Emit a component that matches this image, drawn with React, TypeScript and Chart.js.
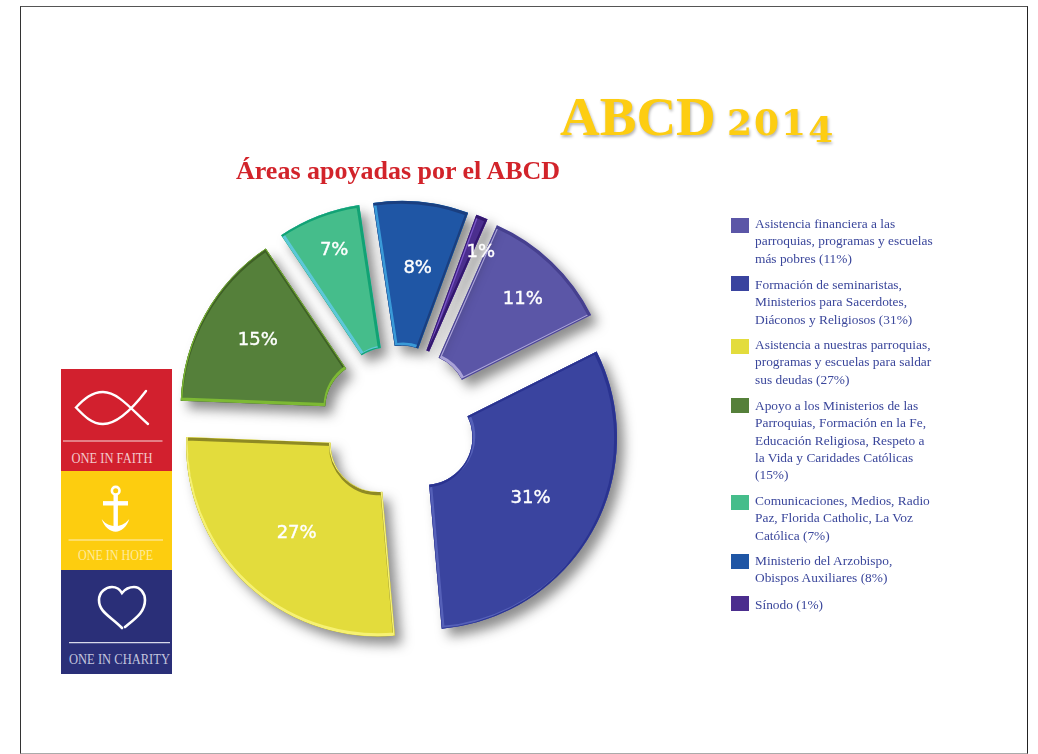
import React, { useEffect, useRef } from "react";
import { Chart, registerables } from "chart.js";

Chart.register(...registerables);

const shares = [11, 31, 27, 15, 7, 8, 1];
const labels = [
  "Asistencia financiera a las parroquias, programas y escuelas más pobres",
  "Formación de seminaristas, Ministerios para Sacerdotes, Diáconos y Religiosos",
  "Asistencia a nuestras parroquias, programas y escuelas para saldar sus deudas",
  "Apoyo a los Ministerios de las Parroquias, Formación en la Fe, Educación Religiosa, Respeto a la Vida y Caridades Católicas",
  "Comunicaciones, Medios, Radio Paz, Florida Catholic, La Voz Católica",
  "Ministerio del Arzobispo, Obispos Auxiliares",
  "Sínodo",
];
const legendLines = [
  ["Asistencia financiera a las", "parroquias, programas y escuelas", "más pobres (11%)"],
  ["Formación de seminaristas,", "Ministerios para Sacerdotes,", "Diáconos y Religiosos (31%)"],
  ["Asistencia a nuestras parroquias,", "programas y escuelas para saldar", "sus deudas (27%)"],
  ["Apoyo a los Ministerios de las", "Parroquias, Formación en la Fe,", "Educación Religiosa, Respeto a", "la Vida y Caridades Católicas", "(15%)"],
  ["Comunicaciones, Medios, Radio", "Paz, Florida Catholic, La Voz", "Católica (7%)"],
  ["Ministerio del Arzobispo,", "Obispos Auxiliares (8%)"],
  ["Sínodo (1%)"],
];
const fills = ["#5b56a7", "#3a449f", "#e3dc3c", "#55803a", "#45bd8b", "#1f56a5", "#4b2e8e"];
const lightEdges = ["#a9a2d8", "#5560b8", "#f6f173", "#7db934", "#5cc8d8", "#3a9ad8", "#7a55c8"];
const darkEdges = ["#46408f", "#2a3390", "#8f8a24", "#3f6126", "#12a274", "#1a3f80", "#33186e"];
const litFromBelow = [false, false, true, true, false, false, false];
const labelRadii = [147, 121, 121, 135, 157, 127, 162];
const labelNudgeX = [2, 0, 2, 3, 3, 3, 10];
const labelNudgeY = [5, 2, 1, -2, 2, 2, 8];
const swatchTops = [218, 276, 339, 398, 495, 554, 596];
const textTops = [215, 276, 336, 397, 492, 552, 596];

const EXPLODE = 30;
const START_DEG = 23.8;

function tracePath(ctx: CanvasRenderingContext2D, a: any) {
  ctx.beginPath();
  ctx.arc(a.x, a.y, a.outerRadius, a.startAngle, a.endAngle);
  ctx.arc(a.x, a.y, a.innerRadius, a.endAngle, a.startAngle, true);
  ctx.closePath();
}

function strokeShifted(ctx: CanvasRenderingContext2D, a: any, tx: number, ty: number, color: string) {
  ctx.save();
  ctx.translate(tx, ty);
  tracePath(ctx, a);
  ctx.strokeStyle = color;
  ctx.stroke();
  ctx.restore();
}

const explodePlugin = {
  id: "explode",
  afterDatasetsUpdate(chart: any) {
    const meta = chart.getDatasetMeta(0);
    const cx = (chart.chartArea.left + chart.chartArea.right) / 2;
    const cy = (chart.chartArea.top + chart.chartArea.bottom) / 2;
    meta.data.forEach((a: any) => {
      const mid = (a.startAngle + a.endAngle) / 2;
      a.x = cx + Math.cos(mid) * EXPLODE;
      a.y = cy + Math.sin(mid) * EXPLODE;
    });
  },
  beforeDatasetDraw(chart: any) {
    const ctx = chart.ctx;
    ctx.save();
    ctx.shadowColor = "rgba(30,30,30,0.5)";
    ctx.shadowBlur = 12;
    ctx.shadowOffsetX = 7;
    ctx.shadowOffsetY = 8;
  },
  afterDatasetDraw(chart: any) {
    const ctx: CanvasRenderingContext2D = chart.ctx;
    ctx.restore();
    const meta = chart.getDatasetMeta(0);
    meta.data.forEach((a: any, i: number) => {
      ctx.save();
      tracePath(ctx, a);
      ctx.clip();
      ctx.lineJoin = "miter";
      ctx.lineWidth = 3.4;
      if (litFromBelow[i]) {
        strokeShifted(ctx, a, 0, 1.6, darkEdges[i]);
        strokeShifted(ctx, a, 0, -1.6, lightEdges[i]);
      } else {
        strokeShifted(ctx, a, 1.15, -1.15, lightEdges[i]);
        strokeShifted(ctx, a, -1.15, 1.15, darkEdges[i]);
      }
      ctx.restore();
    });
  },
  afterDatasetsDraw(chart: any) {
    const ctx: CanvasRenderingContext2D = chart.ctx;
    const meta = chart.getDatasetMeta(0);
    ctx.save();
    ctx.font = '18px "DejaVu Sans"';
    ctx.fillStyle = "#ffffff";
    ctx.strokeStyle = "#ffffff";
    ctx.lineWidth = 0.4;
    ctx.textAlign = "center";
    ctx.textBaseline = "middle";
    meta.data.forEach((a: any, i: number) => {
      const mid = (a.startAngle + a.endAngle) / 2;
      const x = a.x + Math.cos(mid) * labelRadii[i] + labelNudgeX[i];
      const y = a.y + Math.sin(mid) * labelRadii[i] + labelNudgeY[i];
      ctx.fillText(shares[i] + "%", x, y);
      ctx.strokeText(shares[i] + "%", x, y);
    });
    ctx.restore();
  },
};

const abs = (left: number, top: number): React.CSSProperties => ({ position: "absolute", left, top });

function SidePanel() {
  const txt = { fontFamily: '"Liberation Serif"', fontSize: 15, textAnchor: "middle" as const, lengthAdjust: "spacingAndGlyphs" as const };
  return (
    <svg width={1038} height={754} style={{ position: "absolute", left: 0, top: 0, pointerEvents: "none" }}>
      <rect x={61} y={369} width={111} height={102} fill="#d2202e" />
      <rect x={61} y={471} width={111} height={99} fill="#fdcd0f" />
      <rect x={61} y={570} width={111} height={104} fill="#2a2f78" />
      <path d="M146 391 C130 412 115 424 103 424 C92 424 84 416 76 407.5 C84 399 92 392 103 392 C118 392 132 410 148 424" fill="none" stroke="#fff" strokeWidth={2.4} strokeLinecap="round" />
      <line x1={63} x2={162.5} y1={441} y2={441} stroke="#f6dcdc" strokeWidth={1.2} />
      <text x={112} y={463} fill="#f3c9cc" textLength={81} {...txt}>ONE IN FAITH</text>
      <circle cx={115.7} cy={490.7} r={3.8} fill="none" stroke="#fff" strokeWidth={2.6} />
      <line x1={103} x2={128} y1={503.3} y2={503.3} stroke="#fff" strokeWidth={4.4} />
      <line x1={115.7} x2={115.7} y1={494} y2={530} stroke="#fff" strokeWidth={4.4} />
      <path d="M101.7 519 C104 527 110 531.7 115.7 531.7 C121 531.7 127 527 129.3 519 C124 525 120 526 115.7 526 C111 526 106 525 101.7 519 Z" fill="#fff" />
      <line x1={68.5} x2={163} y1={540} y2={540} stroke="#fdf0c0" strokeWidth={1.2} />
      <text x={115.5} y={560} fill="#fdeb9e" textLength={75} {...txt}>ONE IN HOPE</text>
      <path d="M122 628 C110 616 99 612 99 600 C99 592 106 587 112 587 C116 587 120 589.5 122 593 C126 588 130 587 134 587 C140 587 145 593 145 600 C145 612 136 618 125 627" fill="none" stroke="#fff" strokeWidth={2.6} strokeLinecap="round" />
      <line x1={69} x2={170} y1={642.7} y2={642.7} stroke="#d8d9ea" strokeWidth={1.2} />
      <text x={119.5} y={664} fill="#c3c5de" textLength={101} {...txt}>ONE IN CHARITY</text>
    </svg>
  );
}

export default function App() {
  const ref = useRef<HTMLCanvasElement | null>(null);
  useEffect(() => {
    const chart = new Chart(ref.current as HTMLCanvasElement, {
      type: "doughnut",
      data: {
        labels,
        datasets: [{ data: shares, backgroundColor: fills, borderWidth: 0 }],
      },
      options: {
        responsive: false,
        animation: false,
        rotation: START_DEG,
        radius: 192,
        cutout: "24.7%",
        layout: { padding: { left: 0, right: 240.4, top: 91.5, bottom: 0 } },
        plugins: { legend: { display: false }, title: { display: false }, tooltip: { enabled: false } },
      },
      plugins: [explodePlugin],
    } as any);
    return () => chart.destroy();
  }, []);

  return (
    <div style={{ position: "absolute", left: 0, top: 0, width: 1038, height: 754, overflow: "hidden", background: "#fff" }}>
      <div style={{ position: "absolute", left: 20, top: 6, width: 1006, height: 746, borderStyle: "solid", borderColor: "#555 #222 #aaa #333", borderWidth: "1.5px" }} />
      <canvas ref={ref} width={1038} height={754} style={{ position: "absolute", left: 0, top: 0, width: 1038, height: 754 }} />
      <SidePanel />
      <div style={{ ...abs(560, 85), whiteSpace: "nowrap", color: "#fdcd12", fontFamily: '"Liberation Serif"', fontWeight: 700, fontSize: 55, lineHeight: "64px", textShadow: "1px 2px 3px rgba(0,0,0,0.3)" }}>
        ABCD
      </div>
      <div style={{ ...abs(727, 96), whiteSpace: "nowrap", color: "#fdcd12", fontFamily: '"DejaVu Serif"', fontWeight: 700, fontSize: 36, lineHeight: "52px", letterSpacing: 2, textShadow: "1px 2px 3px rgba(0,0,0,0.3)" }}>
        201<span style={{ position: "relative", top: 7 }}>4</span>
      </div>
      <div style={{ ...abs(236, 155), whiteSpace: "nowrap", color: "#d2232a", fontFamily: '"Liberation Serif"', fontWeight: 700, fontSize: 26, lineHeight: "32px" }}>
        Áreas apoyadas por el ABCD
      </div>
      {legendLines.map((lines, i) => (
        <React.Fragment key={i}>
          <div style={{ ...abs(731, swatchTops[i]), width: 18, height: 15, background: fills[i] }} />
          <div style={{ ...abs(755, textTops[i]), whiteSpace: "nowrap", color: "#3a469b", fontFamily: '"Liberation Serif"', fontSize: 13.4, lineHeight: "17.3px" }}>
            {lines.map((l, j) => (
              <div key={j}>{l}</div>
            ))}
          </div>
        </React.Fragment>
      ))}
    </div>
  );
}
